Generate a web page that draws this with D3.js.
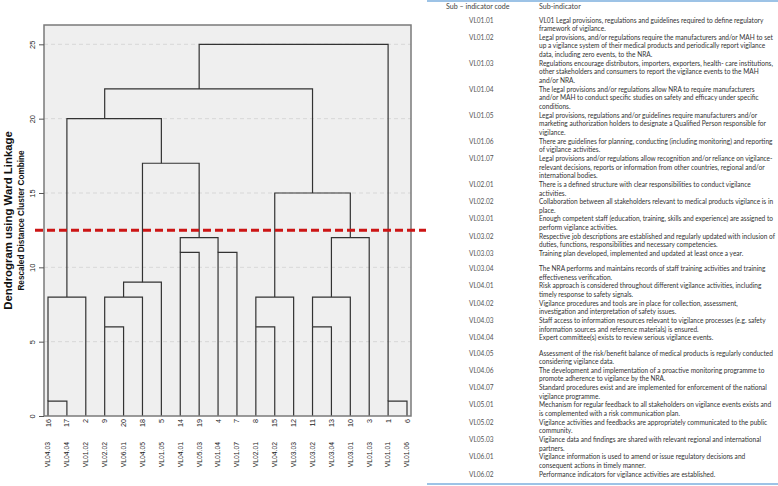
<!DOCTYPE html>
<html>
<head>
<meta charset="utf-8">
<script src="https://cdn.jsdelivr.net/npm/d3@7"></script>
<style>
  html, body { margin: 0; padding: 0; background: #fff; }
  svg { display: block; font-family: "Liberation Sans", Arial, sans-serif; }
</style>
</head>
<body>
<svg id="chart"></svg>
<script>
// leaf order along the bottom (case numbers) and their codes
const leafOrder = [16, 17, 2, 9, 20, 18, 5, 14, 19, 4, 7, 8, 15, 12, 11, 13, 10, 3, 1, 6];
const leafCodes = ["VL04.03", "VL04.04", "VL01.02", "VL02.02", "VL06.01", "VL04.05", "VL01.05",
  "VL04.01", "VL05.03", "VL01.04", "VL01.07", "VL02.01", "VL04.02", "VL03.03", "VL03.02",
  "VL03.04", "VL03.01", "VL01.03", "VL01.01", "VL01.06"];

// agglomeration schedule, hclust style: negative = case, positive = earlier step
const merges = [
  [-16, -17, 1],
  [-1, -6, 1],
  [-9, -20, 6],
  [-8, -15, 6],
  [-11, -13, 6],
  [1, -2, 8],
  [3, -18, 8],
  [4, -12, 8],
  [5, -10, 8],
  [7, -5, 9],
  [-14, -19, 11],
  [-4, -7, 11],
  [11, 12, 12],
  [9, -3, 12],
  [8, 14, 15],
  [10, 13, 17],
  [6, 16, 20],
  [17, 15, 22],
  [18, 2, 25]
];

const yTicks = [0, 5, 10, 15, 20, 25];
const cutHeight = 12.5;

const titleMain = "Dendrogram using Ward Linkage";
const titleSub = "Rescaled Distance Cluster Combine";

const tableHeader = ["Sub \u2013 indicator code", "Sub-indicator"];
const tableCodes = ["VL01.01", "VL01.02", "VL01.03", "VL01.04", "VL01.05", "VL01.06", "VL01.07",
  "VL02.01", "VL02.02", "VL03.01", "VL03.02", "VL03.03", "VL03.04", "VL04.01", "VL04.02",
  "VL04.03", "VL04.04", "VL04.05", "VL04.06", "VL04.07", "VL05.01", "VL05.02", "VL05.03",
  "VL06.01", "VL06.02"];
const tableText = [
  ["VL01 Legal provisions, regulations and guidelines required to define regulatory", "framework of vigilance."],
  ["Legal provisions, and/or regulations require the manufacturers and/or MAH to set", "up a vigilance system of their medical products and periodically report vigilance", "data, including zero events, to the NRA."],
  ["Regulations encourage distributors, importers, exporters, health- care institutions,", "other stakeholders and consumers to report the vigilance events to the MAH", "and/or NRA."],
  ["The legal provisions and/or regulations allow NRA to require manufacturers", "and/or MAH to conduct specific studies on safety and efficacy under specific", "conditions."],
  ["Legal provisions, regulations and/or guidelines require manufacturers and/or", "marketing authorization holders to designate a Qualified Person responsible for", "vigilance."],
  ["There are guidelines for planning, conducting (including monitoring) and reporting", "of vigilance activities."],
  ["Legal provisions and/or regulations allow recognition and/or reliance on vigilance-", "relevant decisions, reports or information from other countries, regional and/or", "international bodies."],
  ["There is a defined structure with clear responsibilities to conduct vigilance", "activities."],
  ["Collaboration between all stakeholders relevant to medical products vigilance is in", "place."],
  ["Enough competent staff (education, training, skills and experience) are assigned to", "perform vigilance activities."],
  ["Respective job descriptions are established and regularly updated with inclusion of", "duties, functions, responsibilities and necessary competencies."],
  ["Training plan developed, implemented and updated at least once a year."],
  ["The NRA performs and maintains records of staff training activities and training", "effectiveness verification."],
  ["Risk approach is considered throughout different vigilance activities, including", "timely response to safety signals."],
  ["Vigilance procedures and tools are in place for collection, assessment,", "investigation and interpretation of safety issues."],
  ["Staff access to information resources relevant to vigilance processes (e.g. safety", "information sources and reference materials) is ensured."],
  ["Expert committee(s) exists to review serious vigilance events."],
  ["Assessment of the risk/benefit balance of medical products is regularly conducted", "considering vigilance data."],
  ["The development and implementation of a proactive monitoring programme to", "promote adherence to vigilance by the NRA."],
  ["Standard procedures exist and are implemented for enforcement of the national", "vigilance programme."],
  ["Mechanism for regular feedback to all stakeholders on vigilance events exists and", "is complemented with a risk communication plan."],
  ["Vigilance activities and feedbacks are appropriately communicated to the public", "community."],
  ["Vigilance data and findings are shared with relevant regional and international", "partners."],
  ["Vigilance information is used to amend or issue regulatory decisions and", "consequent actions in timely manner."],
  ["Performance indicators for vigilance activities are established."]
];

const W = 778, H = 486;
const PLOT = {left: 44, right: 411, top: 25, bottom: 416};

const svg = d3.select("#chart").attr("width", W).attr("height", H);

const x = d3.scalePoint()
  .domain(d3.range(leafOrder.length))
  .range([PLOT.left + 4, PLOT.right - 4]);

const y = d3.scaleLinear()
  .domain([0, 26.3])
  .range([PLOT.bottom, PLOT.top]);

drawDendrogram();
drawTable();

function buildNodes() {
  const nodes = [];
  const nodeOf = ref => ref < 0
    ? {pos: leafOrder.indexOf(-ref), h: 0}
    : nodes[ref - 1];
  merges.forEach(([a, b, h]) => {
    const na = nodeOf(a);
    const nb = nodeOf(b);
    const l = na.pos <= nb.pos ? na : nb;
    const r = l === na ? nb : na;
    // SPSS puts the joined cluster on the lower middle leaf slot
    nodes.push({l, r, h, pos: Math.floor((na.pos + nb.pos) / 2)});
  });
  return nodes;
}

function drawDendrogram() {
  svg.append("rect")
    .attr("x", PLOT.left)
    .attr("y", PLOT.top)
    .attr("width", PLOT.right - PLOT.left)
    .attr("height", PLOT.bottom - PLOT.top)
    .attr("fill", "#efefef");

  // grid
  svg.append("g")
    .selectAll("line")
    .data(yTicks.filter(d => d > 0))
    .join("line")
    .attr("x1", PLOT.left)
    .attr("x2", PLOT.right)
    .attr("y1", d => y(d))
    .attr("y2", d => y(d))
    .attr("stroke", "#d2d2d2")
    .attr("stroke-width", 0.8)
    .attr("stroke-dasharray", "4,3");

  const nodes = buildNodes();
  svg.append("g")
    .selectAll("path")
    .data(nodes)
    .join("path")
    .attr("d", d => `M${x(d.l.pos)},${y(d.l.h)}V${y(d.h)}H${x(d.r.pos)}V${y(d.r.h)}`)
    .attr("fill", "none")
    .attr("stroke", "#333")
    .attr("stroke-width", 1.2);

  svg.append("rect")
    .attr("x", PLOT.left)
    .attr("y", PLOT.top)
    .attr("width", PLOT.right - PLOT.left)
    .attr("height", PLOT.bottom - PLOT.top)
    .attr("fill", "none")
    .attr("stroke", "#7a7a7a")
    .attr("stroke-width", 1.5);

  // y axis
  const yAxis = svg.append("g")
    .attr("transform", `translate(${PLOT.left},0)`)
    .call(d3.axisLeft(y).tickValues(yTicks).tickSize(5).tickFormat(d3.format("d")));
  yAxis.select(".domain").remove();
  yAxis.selectAll(".tick line").attr("stroke", "#555");
  yAxis.selectAll(".tick text")
    .attr("x", null)
    .attr("dy", "0.35em")
    .attr("text-anchor", "middle")
    .attr("transform", "translate(-12,0) rotate(-90)")
    .attr("font-size", 7.5)
    .attr("font-family", "Liberation Sans, Arial, sans-serif")
    .attr("fill", "#222");

  // leaf labels: case numbers and codes
  const leafG = svg.append("g");
  leafG.selectAll("text.num")
    .data(leafOrder)
    .join("text")
    .attr("class", "num")
    .attr("transform", (d, i) => `translate(${x(i)},419) rotate(-90)`)
    .attr("dy", "0.35em")
    .attr("text-anchor", "end")
    .attr("font-size", 7.2)
    .attr("fill", "#222")
    .text(d => d);

  leafG.selectAll("text.code")
    .data(leafCodes)
    .join("text")
    .attr("class", "code")
    .attr("transform", (d, i) => `translate(${x(i)},442) rotate(-90)`)
    .attr("dy", "0.35em")
    .attr("text-anchor", "end")
    .attr("font-size", 6.8)
    .attr("fill", "#222")
    .text(d => d);

  // titles
  const midY = (PLOT.top + PLOT.bottom) / 2;
  svg.append("text")
    .attr("transform", `translate(12,${midY}) rotate(-90)`)
    .attr("text-anchor", "middle")
    .attr("font-size", 11.4)
    .attr("font-weight", "bold")
    .attr("fill", "#111")
    .text(titleMain);

  svg.append("text")
    .attr("transform", `translate(23.5,${midY}) rotate(-90)`)
    .attr("text-anchor", "middle")
    .attr("font-size", 8.2)
    .attr("font-weight", "bold")
    .attr("fill", "#111")
    .text(titleSub);

  // cut line
  svg.append("line")
    .attr("x1", 35)
    .attr("x2", 426)
    .attr("y1", y(cutHeight))
    .attr("y2", y(cutHeight))
    .attr("stroke", "#cc1515")
    .attr("stroke-width", 3)
    .attr("stroke-dasharray", "8,4");
}

function drawTable() {
  const T = {left: 427, right: 778, codeX: 446, codeColX: 469, textX: 539, lineH: 8.65, firstY: 22.5};
  const g = svg.append("g").attr("font-family", "Lato, 'Open Sans', sans-serif");

  g.append("line")
    .attr("x1", T.left).attr("x2", T.right)
    .attr("y1", 1).attr("y2", 1)
    .attr("stroke", "#9dc3e6").attr("stroke-width", 2);
  g.append("line")
    .attr("x1", T.left).attr("x2", T.right)
    .attr("y1", 484).attr("y2", 484)
    .attr("stroke", "#9dc3e6").attr("stroke-width", 2);

  // narrow the text to Calibri-like width
  const inner = g.append("g");
  const probe = inner.append("text").attr("font-size", 7.2).text(tableText[2][0]);
  const sx = Math.min(1, (773 - T.textX) / probe.node().getComputedTextLength());
  probe.remove();

  const put = (tx, ty, str, size, fill) => inner.append("text")
    .attr("transform", `translate(${tx},${ty}) scale(${sx},1)`)
    .attr("font-size", size)
    .attr("fill", fill)
    .text(str);

  put(T.codeX, 8.5, tableHeader[0], 7.8, "#444");
  put(T.textX, 8.5, tableHeader[1], 7.8, "#444");

  let rowY = T.firstY;
  tableCodes.forEach((code, i) => {
    put(T.codeColX, rowY, code, 7.2, "#555");
    tableText[i].forEach((line, k) => put(T.textX, rowY + k * T.lineH, line, 7.2, "#333"));
    rowY += Math.max(tableText[i].length, 1.75) * T.lineH;
  });
}
</script>
</body>
</html>
